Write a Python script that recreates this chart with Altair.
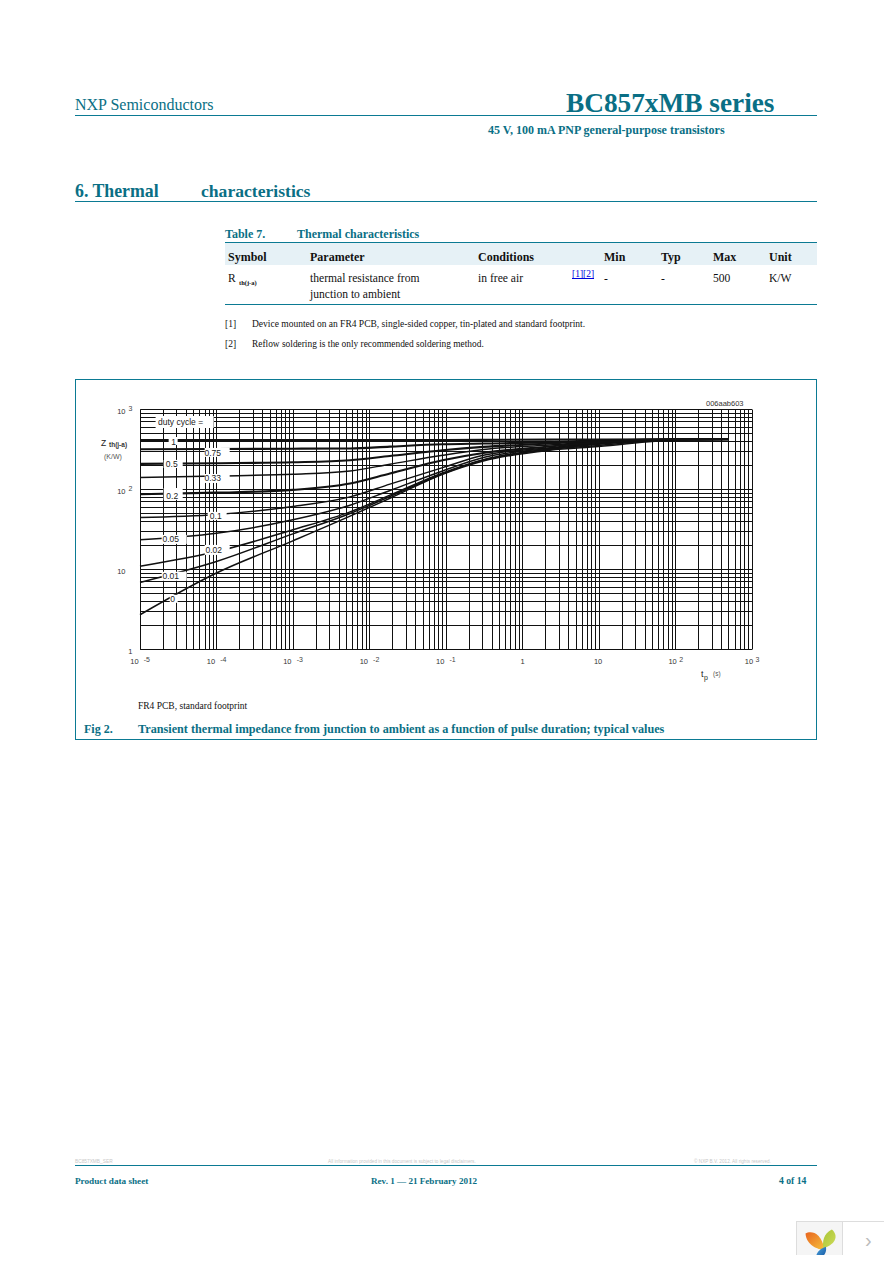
import altair as alt
import pandas as pd

# ---------- chart values ----------
T_GRID = [1e-5, 1e-4, 1e-3, 0.0056, 0.0186, 0.091, 0.31, 2.3, 10, 100, 500]
DUTY = ["1", "0.75", "0.5", "0.33", "0.2", "0.1", "0.05", "0.02", "0.01", "0"]
Z_1    = [410, 410, 410, 410, 410, 410, 411, 414, 416, 418, 420]
Z_075  = [314, 316, 319, 321, 339, 362, 370, 384, 405, 417, 420]
Z_05   = [206, 210, 216, 229, 259, 305, 336, 370, 400, 416, 420]
Z_033  = [139, 145, 153, 168, 204, 264, 311, 355, 393, 416, 420]
Z_02   = [86, 90, 97.5, 117, 156, 229, 282, 340, 385, 416, 420]
Z_01   = [44, 48, 60.4, 79.7, 115, 185, 264, 328, 378, 416, 420]
Z_005  = [23.2, 28, 41.2, 62.8, 95.7, 168, 247, 322, 370, 416, 420]
Z_002  = [10.8, 16.5, 30.9, 51.8, 83.7, 159, 233, 316, 362, 416, 420]
Z_001  = [6.8, 12.4, 27.5, 49.4, 80.5, 155, 230, 311, 350, 415, 420]
Z_0    = [2.68, 8.9, 22.5, 45.8, 76.7, 153, 224, 305, 339, 410, 420]
SERIES = [Z_1, Z_075, Z_05, Z_033, Z_02, Z_01, Z_005, Z_002, Z_001, Z_0]

GRID_X = [m * 10.0 ** e for e in range(-5, 3) for m in range(1, 10)] + [1000.0]
GRID_Y = [m * 10.0 ** e for e in range(0, 3) for m in range(1, 10)] + [1000.0]

BOX_T1 = [1.60e-5, 2.37e-5, 7.02e-5, 2.04e-5, 7.02e-5, 2.04e-5, 7.68e-5, 1.92e-5, 7.02e-5, 1.92e-5, 2.45e-5]
BOX_T2 = [9.2e-5, 3.11e-5, 1.49e-4, 3.62e-5, 1.49e-4, 3.62e-5, 1.36e-4, 4.08e-5, 1.49e-4, 4.08e-5, 3.11e-5]
BOX_Z1 = [579, 355, 252, 183, 119, 73.1, 41.1, 20.6, 15.0, 7.12, 3.78]
BOX_Z2 = [818, 447, 326, 231, 154, 103, 51.8, 26.7, 20.0, 9.23, 4.76]

LABEL_TEXT = ["1", "0.75", "0.5", "0.33", "0.2", "0.1", "0.05", "0.02", "0.01", "0"]
LABEL_T = [2.76e-5, 8.94e-5, 2.6e-5, 8.94e-5, 2.64e-5, 9.8e-5, 2.52e-5, 9.2e-5, 2.52e-5, 2.68e-5]
LABEL_Z = [387, 282, 206, 138, 82, 46.1, 23.8, 17.4, 8.2, 4.25]

NEG_EXP_T = [1e-5, 1e-4, 1e-3, 1e-2, 1e-1]
NEG_EXP = ["-5", "-4", "-3", "-2", "-1"]
POS_EXP_T = [100, 1000]
POS_EXP = ["2", "3"]
Y_EXP_Z = [100, 1000]
Y_EXP = ["2", "3"]

# ---------- layout ----------
OX, OY = 140, 409
TEAL = "#0a6f85"
RULE = "#0b7a93"
BLACK = "#111111"
SERIF = "Liberation Serif"
SANS = "Liberation Sans"


def px(x):
    return x - OX


def py(y):
    return y - OY


def text(s, x, y, size, bold=False, color=BLACK, font=SERIF, align="left"):
    return alt.Chart().mark_text(
        text=s, font=font, fontSize=size, fontWeight="bold" if bold else "normal",
        color=color, align=align, baseline="alphabetic",
    ).encode(x=alt.value(px(x)), y=alt.value(py(y)))


def hrule(x1, x2, y, color=RULE, w=1):
    return alt.Chart().mark_rule(color=color, strokeWidth=w).encode(
        x=alt.value(px(x1)), x2=alt.value(px(x2)), y=alt.value(py(y)))


def vrule(x, y1, y2, color=RULE, w=1):
    return alt.Chart().mark_rule(color=color, strokeWidth=w).encode(
        x=alt.value(px(x)), y=alt.value(py(y1)), y2=alt.value(py(y2)))


def rect(x1, x2, y1, y2, fill, opacity=1):
    return alt.Chart().mark_rect(color=fill, opacity=opacity).encode(
        x=alt.value(px(x1)), x2=alt.value(px(x2)), y=alt.value(py(y1)), y2=alt.value(py(y2)))


def leaf(path, x, y, size, c1, c2):
    grad = alt.LinearGradient(gradient="linear", x1=0, y1=0, x2=1, y2=1,
                              stops=[alt.GradientStop(offset=0, color=c1), alt.GradientStop(offset=1, color=c2)])
    return alt.Chart().mark_point(shape=path, filled=True, size=size, color=grad, opacity=1).encode(
        x=alt.value(px(x)), y=alt.value(py(y)))


# ---------- data plot ----------
lines = pd.DataFrame(
    [{"duty": d, "order": i, "t": t, "z": z}
     for d, vals in zip(DUTY, SERIES) for i, (t, z) in enumerate(zip(T_GRID, vals))]
)
boxes = pd.DataFrame({"t1": BOX_T1, "t2": BOX_T2, "z1": BOX_Z1, "z2": BOX_Z2})
labels = pd.DataFrame({"t": LABEL_T, "z": LABEL_Z, "label": LABEL_TEXT})

x_scale = alt.Scale(type="log", domain=[1e-5, 1e3], nice=False)
y_scale = alt.Scale(type="log", domain=[1, 1000], nice=False)

IS_DECADE = "abs(log(datum.value)/LN10 - round(log(datum.value)/LN10)) < 1e-6"
x_axis = alt.Axis(
    title=None, values=GRID_X, grid=True, gridColor=BLACK, gridOpacity=1, gridWidth=1,
    ticks=False, domain=True, domainColor=BLACK, domainWidth=1,
    labelExpr=f"{IS_DECADE} ? (datum.value == 1 ? '1' : '10') : ''",
    labelFont=SANS, labelFontSize=7.5, labelColor="#333333", labelPadding=8, labelOverlap=False,
    labelBound=False, labelFlush=False,
    labelOffset={"condition": [{"test": "datum.value == 1", "value": 0},
                               {"test": "datum.value == 10", "value": -1},
                               {"test": "datum.value >= 100", "value": -3}], "value": -6},
)
y_axis = alt.Axis(
    title=None, values=GRID_Y, grid=True, gridColor=BLACK, gridOpacity=1, gridWidth=1,
    ticks=False, domain=True, domainColor=BLACK, domainWidth=1,
    labelExpr=f"{IS_DECADE} ? (datum.value == 1 ? '1' : '10') : ''",
    labelFont=SANS, labelFontSize=7.5, labelColor="#333333", labelOverlap=False,
    labelBound=False, labelFlush=False, labelOffset=2,
    labelPadding={"condition": {"test": "datum.value == 1", "value": 8}, "value": 15},
)

curves_base = alt.Chart(lines).encode(
    x=alt.X("t:Q", scale=x_scale, axis=x_axis),
    y=alt.Y("z:Q", scale=y_scale, axis=y_axis),
    detail="duty:N",
    order="order:Q",
)
thin = curves_base.transform_filter(alt.FieldOneOfPredicate("duty", ["0.33", "0.1", "0.05", "0.02", "0.01", "0"])).mark_line(
    color=BLACK, strokeWidth=1.5, clip=False, interpolate="monotone")
thick = curves_base.transform_filter(alt.FieldOneOfPredicate("duty", ["1", "0.75", "0.5", "0.2"])).mark_line(
    color=BLACK, strokeWidth=2.1, clip=False, interpolate="monotone")

box_layer = alt.Chart(boxes).mark_rect(color="white", opacity=1).encode(
    x=alt.X("t1:Q", scale=x_scale, axis=x_axis), x2="t2:Q",
    y=alt.Y("z1:Q", scale=y_scale, axis=y_axis), y2="z2:Q",
)
label_layer = alt.Chart(labels).mark_text(font=SANS, fontSize=8.5, color="#222222").encode(
    x=alt.X("t:Q", scale=x_scale, axis=x_axis),
    y=alt.Y("z:Q", scale=y_scale, axis=y_axis),
    text="label:N",
)
neg_exp = alt.Chart(pd.DataFrame({"t": NEG_EXP_T, "s": NEG_EXP})).mark_text(
    font=SANS, fontSize=7, color="#444444", align="right", dx=10).encode(
    x=alt.X("t:Q", scale=x_scale, axis=x_axis), y=alt.value(py(660)), text="s:N")
pos_exp = alt.Chart(pd.DataFrame({"t": POS_EXP_T, "s": POS_EXP})).mark_text(
    font=SANS, fontSize=7, color="#444444", align="right", dx=8).encode(
    x=alt.X("t:Q", scale=x_scale, axis=x_axis), y=alt.value(py(660)), text="s:N")
y_exp = alt.Chart(pd.DataFrame({"z": Y_EXP_Z, "s": Y_EXP})).mark_text(
    font=SANS, fontSize=7, color="#444444", align="center").encode(
    x=alt.value(px(130.5)), y=alt.Y("z:Q", scale=y_scale, axis=y_axis), text="s:N")

# ---------- page furniture ----------
page = [
    text("NXP Semiconductors", 75, 110, 16, color=TEAL),
    text("BC857xMB series", 566, 112, 27.3, True, TEAL),
    hrule(75, 817, 115.5),
    text("45 V, 100 mA PNP general-purpose transistors", 488, 134, 12, True, TEAL),
    text("6. Thermal", 75, 197, 17.8, True, TEAL),
    text("characteristics", 201, 197, 17.6, True, TEAL),
    hrule(75, 817, 201.5),
    text("Table 7.", 225, 238, 12, True, TEAL),
    text("Thermal characteristics", 297, 238, 12, True, TEAL),
    rect(225, 817, 243, 265, "#e6f1f6"),
    hrule(225, 817, 242.5),
    text("Symbol", 228, 261, 12, True),
    text("Parameter", 310, 261, 12, True),
    text("Conditions", 478, 261, 12, True),
    text("Min", 604, 261, 12, True),
    text("Typ", 661, 261, 12, True),
    text("Max", 713, 261, 12, True),
    text("Unit", 769, 261, 12, True),
    text("R", 228, 282, 11.6),
    text("th(j-a)", 239, 285, 6.5, True),
    text("thermal resistance from", 310, 282, 11.6),
    text("junction to ambient", 310, 298, 11.6),
    text("in free air", 478, 282, 11.6),
    text("[1][2]", 572, 277, 9.5, color="#0000dd"),
    hrule(572, 594, 278.5, "#0000dd"),
    text("-", 604, 282, 11.6),
    text("-", 661, 282, 11.6),
    text("500", 713, 282, 11.6),
    text("K/W", 769, 282, 11.6),
    hrule(225, 817, 304.5),
    text("[1]", 225, 327, 9.5),
    text("Device mounted on an FR4 PCB, single-sided copper, tin-plated and standard footprint.", 252, 327, 9.5),
    text("[2]", 225, 347, 9.5),
    text("Reflow soldering is the only recommended soldering method.", 252, 347, 9.4),
    hrule(75, 817, 379.5),
    hrule(75, 817, 739.5),
    vrule(75.5, 379.5, 739.5),
    vrule(816.5, 379.5, 739.5),
    text("006aab603", 706, 406, 7.5, font=SANS, color="#333333"),
    text("Z", 101, 446, 8.5, font=SANS, color="#222222"),
    text("th(j-a)", 109, 447, 6.5, True, font=SANS, color="#333333"),
    text("(K/W)", 104, 459, 7, font=SANS, color="#555555"),
    text("t", 701, 677, 9, font=SANS, color="#222222"),
    text("p", 704, 680, 7, font=SANS, color="#222222"),
    text("(s)", 713, 676, 6.5, font=SANS, color="#555555"),
    text("FR4 PCB, standard footprint", 138, 709, 9.5),
    text("Fig 2.", 84, 733, 12, True, TEAL),
    text("Transient thermal impedance from junction to ambient as a function of pulse duration; typical values", 138, 733, 12.2, True, TEAL),
    text("BC857XMB_SER", 75, 1163, 4.8, color="#c8c8c8", font=SANS),
    text("All information provided in this document is subject to legal disclaimers.", 328, 1163, 4.7, color="#c8c8c8", font=SANS),
    text("\u00a9 NXP B.V. 2012. All rights reserved.", 694, 1163, 4.7, color="#c8c8c8", font=SANS),
    hrule(75, 817, 1165.5),
    text("Product data sheet", 75, 1184, 9.2, True, TEAL),
    text("Rev. 1 \u2014 21 February 2012", 371, 1184, 9.1, True, TEAL),
    text("4 of 14", 779, 1184, 9.7, True, TEAL),
    rect(796, 842, 1221, 1260, "#f5f5f5"),
    hrule(796, 892, 1221.5, "#dddddd"),
    hrule(796, 892, 1260.5, "#dddddd"),
    vrule(796.5, 1221, 1261, "#dddddd"),
    vrule(842.5, 1221, 1261, "#dddddd"),
    leaf("M-1,-.7C-.5,-1 .6,-.9 .9,.95C.2,.9-.9,.5-1,-.7Z", 815.5, 1240.5, 400, "#e8641e", "#f6c23c"),
    leaf("M.3,-1C1,-.4 .8,.5-.6,1C-.7,.3-.6,-.6 .3,-1Z", 829, 1239, 361, "#a8c435", "#cfdc5a"),
    leaf("M.7,-.9C.9,.1 .2,.7-.6,.9C-.9,.2-.3,-.6 .7,-.9Z", 821, 1253, 196, "#4ba3de", "#10509c"),
    text("\u203a", 865, 1247, 20, color="#bbbbbb", font=SANS),
]

chart = alt.layer(
    *page, thin, thick, box_layer, label_layer,
    text("duty cycle =", 158, 425, 8.5, font=SANS, color="#222222"),
    neg_exp, pos_exp, y_exp,
).properties(
    width=611.5, height=240,
    padding={"left": 132, "top": 401, "right": 132.5, "bottom": 606},
    autosize=alt.AutoSizeParams(type="none"),
    background="white",
).configure_view(stroke=None)

chart.save("out.html", embed_options={"renderer": "svg", "actions": False})
